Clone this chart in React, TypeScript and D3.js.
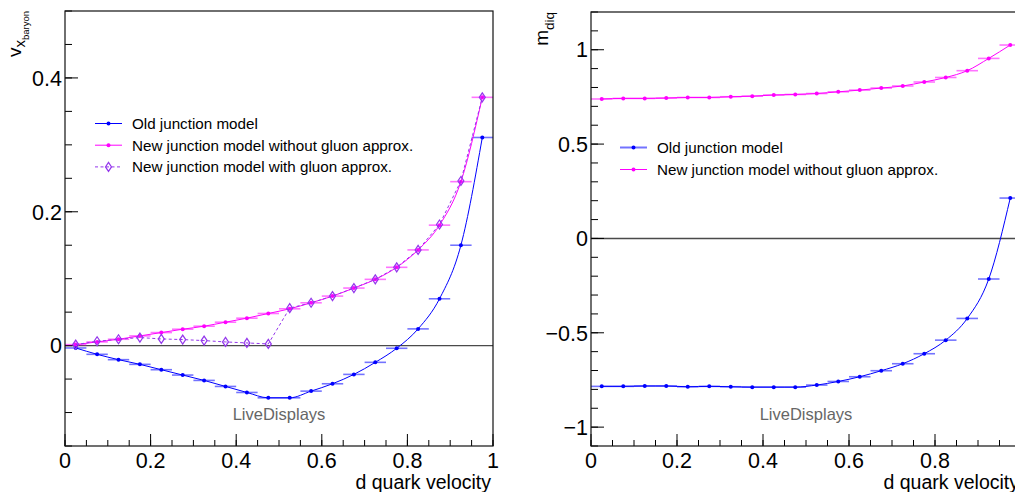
import React from "react";
import * as d3 from "d3";

const FONT = "'Liberation Sans', Arial, Helvetica, sans-serif";
const BLUE = "#0000ff";
const MAGENTA = "#ff00ff";
const VIOLET = "#9436ec";

// bin centres of the d quark velocity histogram, half bin width is the x error
const velocity = [
  0.025, 0.075, 0.125, 0.175, 0.225, 0.275, 0.325, 0.375, 0.425, 0.475,
  0.525, 0.575, 0.625, 0.675, 0.725, 0.775, 0.825, 0.875, 0.925, 0.975,
];
const halfBin = 0.025;

// left pad: v_x of the baryon
const vxOld = [
  -0.0035, -0.013, -0.021, -0.028, -0.036, -0.044, -0.052, -0.061, -0.07, -0.078,
  -0.078, -0.068, -0.057, -0.043, -0.025, -0.004, 0.025, 0.07, 0.15, 0.311,
];
const vxNew = [
  0.0015, 0.0055, 0.0095, 0.0145, 0.0195, 0.0245, 0.029, 0.035, 0.041, 0.048,
  0.055, 0.064, 0.074, 0.086, 0.099, 0.117, 0.143, 0.18, 0.245, 0.371,
];
const vxNewGluon = [
  0.0015, 0.0065, 0.0095, 0.012, 0.01, 0.009, 0.0075, 0.0055, 0.004, 0.0025,
  0.056, 0.064, 0.074, 0.086, 0.099, 0.117, 0.143, 0.181, 0.246, 0.371,
];

// right pad: diquark mass
const mdiqOld = [
  -0.784, -0.784, -0.782, -0.782, -0.786, -0.784, -0.786, -0.788, -0.788, -0.788,
  -0.777, -0.758, -0.733, -0.701, -0.664, -0.611, -0.539, -0.424, -0.215, 0.214,
];
const mdiqNew = [
  0.739, 0.742, 0.742, 0.744, 0.747, 0.747, 0.751, 0.754, 0.76, 0.763,
  0.768, 0.777, 0.786, 0.797, 0.808, 0.829, 0.853, 0.889, 0.954, 1.025,
];

const velocityTicks = [0, 0.2, 0.4, 0.6, 0.8, 1];
const vxTicks = [0, 0.2, 0.4];
const mdiqTicks = [-1, -0.5, 0, 0.5, 1];

const legendOld = "Old junction model";
const legendNew = "New junction model without gluon approx.";
const legendGluon = "New junction model with gluon approx.";

const W = 1015;
const H = 492;

const fmt = (d) => (d < 0 ? "\u2212" : "") + String(Math.abs(d));

type Series = {
  values: number[];
  color: string;
  marker: "dot" | "diamond";
  dashed?: boolean;
  errors?: boolean;
  soft?: boolean;
};

type PanelProps = {
  left: number;
  right: number;
  top: number;
  bottom: number;
  yDomain: [number, number];
  yTicks: number[];
  yMinor: number;
  series: Series[];
  legend: { label: string; s: Series }[];
  legendX: number;
  legendY: number;
  legendStep: number;
  title: React.ReactNode;
};

const diamond = "M0,-4.5L3,0L0,4.5L-3,0Z";

function Marker({ s, x, y }) {
  if (s.marker === "diamond")
    return (
      <path
        d={diamond}
        transform={`translate(${x},${y})`}
        fill="none"
        stroke={s.color}
        strokeWidth={1.2}
      />
    );
  return <circle cx={x} cy={y} r={2} fill={s.color} />;
}

function Panel(p: PanelProps) {
  const x = d3.scaleLinear().domain([0, 1]).range([p.left, p.right]);
  const y = d3.scaleLinear().domain(p.yDomain).range([p.bottom, p.top]);

  const xMinor = d3.range(0, 1 + 1e-9, 0.05);
  const yMinor = d3
    .range(Math.ceil(p.yDomain[0] / p.yMinor - 1e-9), Math.floor(p.yDomain[1] / p.yMinor + 1e-9) + 1)
    .map((k) => k * p.yMinor);

  return (
    <g fontFamily={FONT}>
      {/* zero line */}
      <line x1={p.left} x2={p.right} y1={y(0)} y2={y(0)} stroke="#4a4a4a" strokeWidth={1.4} />

      {/* ticks */}
      {xMinor.map((t) => (
        <line key={"xm" + t} x1={x(t)} x2={x(t)} y1={p.bottom} y2={p.bottom - 6} stroke="#000" />
      ))}
      {velocityTicks.map((t) => (
        <line key={"xM" + t} x1={x(t)} x2={x(t)} y1={p.bottom} y2={p.bottom - 12} stroke="#000" />
      ))}
      {yMinor.map((t) => (
        <line key={"ym" + t} x1={p.left} x2={p.left + 7} y1={y(t)} y2={y(t)} stroke="#000" />
      ))}
      {p.yTicks.map((t) => (
        <line key={"yM" + t} x1={p.left} x2={p.left + 13} y1={y(t)} y2={y(t)} stroke="#000" />
      ))}

      {/* tick labels */}
      {velocityTicks.map((t) => (
        <text key={"xl" + t} x={x(t)} y={p.bottom + 22} fontSize={21.5} textAnchor="middle">
          {fmt(t)}
        </text>
      ))}
      {p.yTicks.map((t) => (
        <text key={"yl" + t} x={p.left - 3} y={y(t)} dy="0.36em" fontSize={21.5} textAnchor="end">
          {fmt(t)}
        </text>
      ))}

      {/* data */}
      {p.series.map((s, i) => {
        const line = d3
          .line<number>()
          .x((_, j) => x(velocity[j]))
          .y((v) => y(v))
          .curve(s.dashed ? d3.curveLinear : d3.curveMonotoneX);
        return (
          <g key={"s" + i}>
            {s.errors !== false &&
              s.values.map((v, j) => (
                <line
                  key={j}
                  x1={x(velocity[j] - halfBin)}
                  x2={x(velocity[j] + halfBin)}
                  y1={y(v)}
                  y2={y(v)}
                  stroke={s.color}
                  strokeOpacity={0.55}
                  strokeWidth={1.6}
                />
              ))}
            <path
              d={line(s.values) || ""}
              fill="none"
              stroke={s.color}
              strokeWidth={1}
              strokeDasharray={s.dashed ? "3,2.5" : undefined}
            />
            {s.values.map((v, j) => (
              <Marker key={"m" + j} s={s} x={x(velocity[j])} y={y(v)} />
            ))}
          </g>
        );
      })}

      {/* frame */}
      <rect
        x={p.left}
        y={p.top}
        width={p.right - p.left}
        height={p.bottom - p.top}
        fill="none"
        stroke="#111"
        strokeWidth={1.2}
      />

      {/* legend */}
      {p.legend.map((e, i) => {
        const ly = p.legendY + i * p.legendStep;
        return (
          <g key={"lg" + i}>
            <line
              x1={p.legendX}
              x2={p.legendX + 27}
              y1={ly}
              y2={ly}
              stroke={e.s.color}
              strokeOpacity={e.s.soft ? 0.55 : 1}
              strokeWidth={e.s.soft ? 2 : 1}
              strokeDasharray={e.s.dashed ? "3,2.5" : undefined}
            />
            <Marker s={e.s} x={p.legendX + 13.5} y={ly} />
            <text x={p.legendX + 37} y={ly} dy="0.36em" fontSize={15.2}>
              {e.label}
            </text>
          </g>
        );
      })}

      <text x={x(0.5)} y={p.bottom - 26} fontSize={16.5} fill="#666" textAnchor="middle">
        LiveDisplays
      </text>

      <text x={p.right - 2} y={489} fontSize={19.5} textAnchor="end">
        d quark velocity
      </text>

      {p.title}
    </g>
  );
}

export default function App() {
  const oldS: Series = { values: vxOld, color: BLUE, marker: "dot" };
  const newS: Series = { values: vxNew, color: MAGENTA, marker: "dot" };
  const gluonS: Series = { values: vxNewGluon, color: VIOLET, marker: "diamond", dashed: true, errors: false };
  const mOld: Series = { values: mdiqOld, color: BLUE, marker: "dot", soft: true };
  const mNew: Series = { values: mdiqNew, color: MAGENTA, marker: "dot" };

  return (
    <svg
      width={W}
      height={H}
      style={{ position: "absolute", left: 0, top: 0, background: "#fff" }}
    >
      <rect width={W} height={H} fill="#fff" />
      <Panel
        left={65}
        right={493}
        top={11}
        bottom={446}
        yDomain={[-0.15, 0.5]}
        yTicks={vxTicks}
        yMinor={0.05}
        series={[oldS, newS, gluonS]}
        legend={[
          { label: legendOld, s: oldS },
          { label: legendNew, s: newS },
          { label: legendGluon, s: gluonS },
        ]}
        legendX={95}
        legendY={123.5}
        legendStep={21.7}
        title={
          <text transform="translate(21,11) rotate(-90)" textAnchor="end" fontSize={19}>
            v
            <tspan fontSize={15} dy={4}>x</tspan>
            <tspan fontSize={9.5} dy={4}>baryon</tspan>
          </text>
        }
      />
      <Panel
        left={591}
        right={1021}
        top={12}
        bottom={446}
        yDomain={[-1.1, 1.2]}
        yTicks={mdiqTicks}
        yMinor={0.1}
        series={[mOld, mNew]}
        legend={[
          { label: legendOld, s: mOld },
          { label: legendNew, s: mNew },
        ]}
        legendX={620}
        legendY={147.5}
        legendStep={22}
        title={
          <text transform="translate(548,12) rotate(-90)" textAnchor="end" fontSize={19}>
            m
            <tspan fontSize={13.5} dy={6}>diq</tspan>
          </text>
        }
      />
    </svg>
  );
}
